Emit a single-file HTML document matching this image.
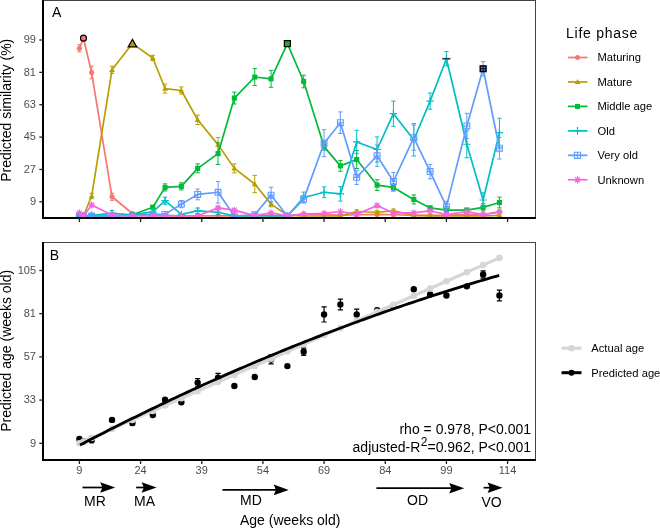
<!DOCTYPE html>
<html><head><meta charset="utf-8"><style>
html,body{margin:0;padding:0;background:#fff;width:660px;height:528px;overflow:hidden}
svg{display:block;will-change:transform}
text{font-family:"Liberation Sans",sans-serif}
.tk{font-size:11px;fill:#4D4D4D}
.ti{font-size:14px;fill:#000}
.pl{font-size:14px;fill:#000}
.lt{font-size:14px;letter-spacing:0.75px;fill:#000}
.lg{font-size:11.2px;fill:#000}
.st{font-size:14px;fill:#000}
.ar{font-size:14px;fill:#000}
</style></head><body>
<svg width="660" height="528" viewBox="0 0 660 528">
<rect width="660" height="528" fill="#fff"/>
<g id="panelA">
<rect x="43" y="0.5" width="492.5" height="217.5" fill="none" stroke="#444" stroke-width="1"/>
<defs><clipPath id="cA"><rect x="43" y="0" width="493" height="218"/></clipPath><clipPath id="cB"><rect x="43" y="242" width="493" height="218"/></clipPath></defs>
<g clip-path="url(#cA)">
<polyline points="79.40,48.27 83.48,38.20 91.63,72.54 112.02,196.77 132.41,213.49 152.80,215.29 165.04,215.29 181.35,215.82 197.66,215.82 218.05,215.82 234.36,215.82 254.75,215.29 271.07,215.29 287.38,215.82 303.69,214.03 324.08,214.39 340.39,215.29 356.70,214.75 377.09,214.39 393.41,214.75 413.80,215.29 430.11,215.29 446.42,215.29 466.81,214.39 483.12,214.75 499.43,211.51" fill="none" stroke="#F8766D" stroke-width="1.7" stroke-linejoin="round"/>
<path d="M79.40 44.67V51.87M77.20 44.67H81.60M77.20 51.87H81.60" stroke="#F8766D" stroke-width="1" fill="none"/>
<path d="M91.63 66.25V78.83M89.43 66.25H93.83M89.43 78.83H93.83" stroke="#F8766D" stroke-width="1" fill="none"/>
<path d="M112.02 193.17V200.36M109.82 193.17H114.22M109.82 200.36H114.22" stroke="#F8766D" stroke-width="1" fill="none"/>
<circle cx="79.40" cy="48.27" r="2.55" fill="#F8766D"/>
<circle cx="83.48" cy="38.20" r="2.55" fill="#F8766D"/>
<circle cx="91.63" cy="72.54" r="2.55" fill="#F8766D"/>
<circle cx="112.02" cy="196.77" r="2.55" fill="#F8766D"/>
<circle cx="132.41" cy="213.49" r="2.55" fill="#F8766D"/>
<circle cx="152.80" cy="215.29" r="2.55" fill="#F8766D"/>
<circle cx="165.04" cy="215.29" r="2.55" fill="#F8766D"/>
<circle cx="181.35" cy="215.82" r="2.55" fill="#F8766D"/>
<circle cx="197.66" cy="215.82" r="2.55" fill="#F8766D"/>
<circle cx="218.05" cy="215.82" r="2.55" fill="#F8766D"/>
<circle cx="234.36" cy="215.82" r="2.55" fill="#F8766D"/>
<circle cx="254.75" cy="215.29" r="2.55" fill="#F8766D"/>
<circle cx="271.07" cy="215.29" r="2.55" fill="#F8766D"/>
<circle cx="287.38" cy="215.82" r="2.55" fill="#F8766D"/>
<circle cx="303.69" cy="214.03" r="2.55" fill="#F8766D"/>
<circle cx="324.08" cy="214.39" r="2.55" fill="#F8766D"/>
<circle cx="340.39" cy="215.29" r="2.55" fill="#F8766D"/>
<circle cx="356.70" cy="214.75" r="2.55" fill="#F8766D"/>
<circle cx="377.09" cy="214.39" r="2.55" fill="#F8766D"/>
<circle cx="393.41" cy="214.75" r="2.55" fill="#F8766D"/>
<circle cx="413.80" cy="215.29" r="2.55" fill="#F8766D"/>
<circle cx="430.11" cy="215.29" r="2.55" fill="#F8766D"/>
<circle cx="446.42" cy="215.29" r="2.55" fill="#F8766D"/>
<circle cx="466.81" cy="214.39" r="2.55" fill="#F8766D"/>
<circle cx="483.12" cy="214.75" r="2.55" fill="#F8766D"/>
<circle cx="499.43" cy="211.51" r="2.55" fill="#F8766D"/>
<polyline points="79.40,216.00 83.48,216.00 91.63,196.05 112.02,69.84 132.41,43.60 152.80,57.98 165.04,88.54 181.35,90.52 197.66,119.82 218.05,144.63 234.36,168.36 254.75,184.00 271.07,204.14 287.38,215.29 303.69,216.00 324.08,216.00 340.39,215.82 356.70,211.51 377.09,212.23 393.41,210.79 413.80,215.29 430.11,215.82 446.42,216.00 466.81,215.82 483.12,216.00 499.43,215.29" fill="none" stroke="#B79F00" stroke-width="1.7" stroke-linejoin="round"/>
<path d="M91.63 193.35V198.75M89.43 193.35H93.83M89.43 198.75H93.83" stroke="#B79F00" stroke-width="1" fill="none"/>
<path d="M112.02 66.25V73.44M109.82 66.25H114.22M109.82 73.44H114.22" stroke="#B79F00" stroke-width="1" fill="none"/>
<path d="M152.80 55.28V60.67M150.60 55.28H155.00M150.60 60.67H155.00" stroke="#B79F00" stroke-width="1" fill="none"/>
<path d="M165.04 84.05V93.04M162.84 84.05H167.24M162.84 93.04H167.24" stroke="#B79F00" stroke-width="1" fill="none"/>
<path d="M181.35 86.92V94.11M179.15 86.92H183.55M179.15 94.11H183.55" stroke="#B79F00" stroke-width="1" fill="none"/>
<path d="M197.66 115.15V124.50M195.46 115.15H199.86M195.46 124.50H199.86" stroke="#B79F00" stroke-width="1" fill="none"/>
<path d="M218.05 137.44V151.82M215.85 137.44H220.25M215.85 151.82H220.25" stroke="#B79F00" stroke-width="1" fill="none"/>
<path d="M234.36 163.87V172.86M232.16 163.87H236.56M232.16 172.86H236.56" stroke="#B79F00" stroke-width="1" fill="none"/>
<path d="M254.75 175.37V192.63M252.55 175.37H256.95M252.55 192.63H256.95" stroke="#B79F00" stroke-width="1" fill="none"/>
<path d="M271.07 201.44V206.84M268.87 201.44H273.27M268.87 206.84H273.27" stroke="#B79F00" stroke-width="1" fill="none"/>
<path d="M356.70 209.71V213.31M354.50 209.71H358.90M354.50 213.31H358.90" stroke="#B79F00" stroke-width="1" fill="none"/>
<path d="M377.09 210.43V214.03M374.89 210.43H379.29M374.89 214.03H379.29" stroke="#B79F00" stroke-width="1" fill="none"/>
<path d="M393.41 208.99V212.59M391.21 208.99H395.61M391.21 212.59H395.61" stroke="#B79F00" stroke-width="1" fill="none"/>
<path d="M79.40 213.07L82.33 218.20L76.47 218.20Z" fill="#B79F00"/>
<path d="M83.48 213.07L86.41 218.20L80.55 218.20Z" fill="#B79F00"/>
<path d="M91.63 193.12L94.57 198.25L88.70 198.25Z" fill="#B79F00"/>
<path d="M112.02 66.91L114.96 72.04L109.09 72.04Z" fill="#B79F00"/>
<path d="M132.41 40.66L135.35 45.79L129.48 45.79Z" fill="#B79F00"/>
<path d="M152.80 55.05L155.74 60.18L149.87 60.18Z" fill="#B79F00"/>
<path d="M165.04 85.61L167.97 90.74L162.11 90.74Z" fill="#B79F00"/>
<path d="M181.35 87.59L184.28 92.72L178.42 92.72Z" fill="#B79F00"/>
<path d="M197.66 116.89L200.59 122.02L194.73 122.02Z" fill="#B79F00"/>
<path d="M218.05 141.70L220.98 146.83L215.12 146.83Z" fill="#B79F00"/>
<path d="M234.36 165.43L237.30 170.56L231.43 170.56Z" fill="#B79F00"/>
<path d="M254.75 181.07L257.69 186.20L251.82 186.20Z" fill="#B79F00"/>
<path d="M271.07 201.21L274.00 206.34L268.13 206.34Z" fill="#B79F00"/>
<path d="M287.38 212.35L290.31 217.48L284.45 217.48Z" fill="#B79F00"/>
<path d="M303.69 213.07L306.62 218.20L300.76 218.20Z" fill="#B79F00"/>
<path d="M324.08 213.07L327.01 218.20L321.15 218.20Z" fill="#B79F00"/>
<path d="M340.39 212.89L343.32 218.02L337.46 218.02Z" fill="#B79F00"/>
<path d="M356.70 208.58L359.64 213.71L353.77 213.71Z" fill="#B79F00"/>
<path d="M377.09 209.30L380.03 214.43L374.16 214.43Z" fill="#B79F00"/>
<path d="M393.41 207.86L396.34 212.99L390.47 212.99Z" fill="#B79F00"/>
<path d="M413.80 212.35L416.73 217.48L410.86 217.48Z" fill="#B79F00"/>
<path d="M430.11 212.89L433.04 218.02L427.18 218.02Z" fill="#B79F00"/>
<path d="M446.42 213.07L449.35 218.20L443.49 218.20Z" fill="#B79F00"/>
<path d="M466.81 212.89L469.74 218.02L463.88 218.02Z" fill="#B79F00"/>
<path d="M483.12 213.07L486.05 218.20L480.19 218.20Z" fill="#B79F00"/>
<path d="M499.43 212.35L502.37 217.48L496.50 217.48Z" fill="#B79F00"/>
<polyline points="79.40,216.00 83.48,216.00 91.63,216.00 112.02,216.00 132.41,214.75 152.80,207.20 165.04,187.42 181.35,186.34 197.66,168.36 218.05,153.62 234.36,98.07 254.75,77.03 271.07,78.83 287.38,43.60 303.69,81.53 324.08,146.61 340.39,165.85 356.70,159.55 377.09,185.08 393.41,187.42 413.80,199.46 430.11,207.91 446.42,210.07 466.81,210.07 483.12,207.38 499.43,202.52" fill="none" stroke="#00BA38" stroke-width="1.7" stroke-linejoin="round"/>
<path d="M132.41 212.95V216.54M130.21 212.95H134.61M130.21 216.54H134.61" stroke="#00BA38" stroke-width="1" fill="none"/>
<path d="M152.80 205.40V208.99M150.60 205.40H155.00M150.60 208.99H155.00" stroke="#00BA38" stroke-width="1" fill="none"/>
<path d="M165.04 183.82V191.02M162.84 183.82H167.24M162.84 191.02H167.24" stroke="#00BA38" stroke-width="1" fill="none"/>
<path d="M181.35 182.75V189.94M179.15 182.75H183.55M179.15 189.94H183.55" stroke="#00BA38" stroke-width="1" fill="none"/>
<path d="M197.66 163.87V172.86M195.46 163.87H199.86M195.46 172.86H199.86" stroke="#00BA38" stroke-width="1" fill="none"/>
<path d="M218.05 142.83V164.41M215.85 142.83H220.25M215.85 164.41H220.25" stroke="#00BA38" stroke-width="1" fill="none"/>
<path d="M234.36 92.14V104.00M232.16 92.14H236.56M232.16 104.00H236.56" stroke="#00BA38" stroke-width="1" fill="none"/>
<path d="M254.75 68.59V85.48M252.55 68.59H256.95M252.55 85.48H256.95" stroke="#00BA38" stroke-width="1" fill="none"/>
<path d="M271.07 70.38V87.28M268.87 70.38H273.27M268.87 87.28H273.27" stroke="#00BA38" stroke-width="1" fill="none"/>
<path d="M303.69 75.24V87.82M301.49 75.24H305.89M301.49 87.82H305.89" stroke="#00BA38" stroke-width="1" fill="none"/>
<path d="M324.08 143.01V150.21M321.88 143.01H326.28M321.88 150.21H326.28" stroke="#00BA38" stroke-width="1" fill="none"/>
<path d="M340.39 160.45V171.24M338.19 160.45H342.59M338.19 171.24H342.59" stroke="#00BA38" stroke-width="1" fill="none"/>
<path d="M356.70 150.56V168.54M354.50 150.56H358.90M354.50 168.54H358.90" stroke="#00BA38" stroke-width="1" fill="none"/>
<path d="M377.09 179.69V190.48M374.89 179.69H379.29M374.89 190.48H379.29" stroke="#00BA38" stroke-width="1" fill="none"/>
<path d="M393.41 183.82V191.02M391.21 183.82H395.61M391.21 191.02H395.61" stroke="#00BA38" stroke-width="1" fill="none"/>
<path d="M413.80 194.97V203.96M411.60 194.97H416.00M411.60 203.96H416.00" stroke="#00BA38" stroke-width="1" fill="none"/>
<path d="M430.11 206.12V209.71M427.91 206.12H432.31M427.91 209.71H432.31" stroke="#00BA38" stroke-width="1" fill="none"/>
<path d="M446.42 208.27V211.87M444.22 208.27H448.62M444.22 211.87H448.62" stroke="#00BA38" stroke-width="1" fill="none"/>
<path d="M466.81 208.27V211.87M464.61 208.27H469.01M464.61 211.87H469.01" stroke="#00BA38" stroke-width="1" fill="none"/>
<path d="M483.12 203.78V210.97M480.92 203.78H485.32M480.92 210.97H485.32" stroke="#00BA38" stroke-width="1" fill="none"/>
<path d="M499.43 197.13V207.91M497.23 197.13H501.63M497.23 207.91H501.63" stroke="#00BA38" stroke-width="1" fill="none"/>
<rect x="76.85" y="213.45" width="5.10" height="5.10" fill="#00BA38"/>
<rect x="80.93" y="213.45" width="5.10" height="5.10" fill="#00BA38"/>
<rect x="89.08" y="213.45" width="5.10" height="5.10" fill="#00BA38"/>
<rect x="109.47" y="213.45" width="5.10" height="5.10" fill="#00BA38"/>
<rect x="129.86" y="212.20" width="5.10" height="5.10" fill="#00BA38"/>
<rect x="150.25" y="204.65" width="5.10" height="5.10" fill="#00BA38"/>
<rect x="162.49" y="184.87" width="5.10" height="5.10" fill="#00BA38"/>
<rect x="178.80" y="183.79" width="5.10" height="5.10" fill="#00BA38"/>
<rect x="195.11" y="165.81" width="5.10" height="5.10" fill="#00BA38"/>
<rect x="215.50" y="151.07" width="5.10" height="5.10" fill="#00BA38"/>
<rect x="231.81" y="95.52" width="5.10" height="5.10" fill="#00BA38"/>
<rect x="252.20" y="74.48" width="5.10" height="5.10" fill="#00BA38"/>
<rect x="268.52" y="76.28" width="5.10" height="5.10" fill="#00BA38"/>
<rect x="284.83" y="41.05" width="5.10" height="5.10" fill="#00BA38"/>
<rect x="301.14" y="78.98" width="5.10" height="5.10" fill="#00BA38"/>
<rect x="321.53" y="144.06" width="5.10" height="5.10" fill="#00BA38"/>
<rect x="337.84" y="163.30" width="5.10" height="5.10" fill="#00BA38"/>
<rect x="354.15" y="157.00" width="5.10" height="5.10" fill="#00BA38"/>
<rect x="374.54" y="182.53" width="5.10" height="5.10" fill="#00BA38"/>
<rect x="390.86" y="184.87" width="5.10" height="5.10" fill="#00BA38"/>
<rect x="411.25" y="196.91" width="5.10" height="5.10" fill="#00BA38"/>
<rect x="427.56" y="205.36" width="5.10" height="5.10" fill="#00BA38"/>
<rect x="443.87" y="207.52" width="5.10" height="5.10" fill="#00BA38"/>
<rect x="464.26" y="207.52" width="5.10" height="5.10" fill="#00BA38"/>
<rect x="480.57" y="204.83" width="5.10" height="5.10" fill="#00BA38"/>
<rect x="496.88" y="199.97" width="5.10" height="5.10" fill="#00BA38"/>
<polyline points="79.40,216.00 83.48,216.00 91.63,215.29 112.02,213.31 132.41,214.93 152.80,211.87 165.04,200.72 181.35,214.39 197.66,210.79 218.05,212.23 234.36,216.00 254.75,216.00 271.07,216.00 287.38,216.00 303.69,197.49 324.08,192.27 340.39,193.89 356.70,141.94 377.09,149.49 393.41,113.71 413.80,139.78 430.11,101.13 446.42,58.70 466.81,144.27 483.12,200.00 499.43,132.59" fill="none" stroke="#00BFC4" stroke-width="1.7" stroke-linejoin="round"/>
<path d="M91.63 214.39V216.18M89.43 214.39H93.83M89.43 216.18H93.83" stroke="#00BFC4" stroke-width="1" fill="none"/>
<path d="M112.02 210.61V216.00M109.82 210.61H114.22M109.82 216.00H114.22" stroke="#00BFC4" stroke-width="1" fill="none"/>
<path d="M152.80 210.97V212.77M150.60 210.97H155.00M150.60 212.77H155.00" stroke="#00BFC4" stroke-width="1" fill="none"/>
<path d="M165.04 197.13V204.32M162.84 197.13H167.24M162.84 204.32H167.24" stroke="#00BFC4" stroke-width="1" fill="none"/>
<path d="M197.66 208.09V213.49M195.46 208.09H199.86M195.46 213.49H199.86" stroke="#00BFC4" stroke-width="1" fill="none"/>
<path d="M218.05 209.53V214.93M215.85 209.53H220.25M215.85 214.93H220.25" stroke="#00BFC4" stroke-width="1" fill="none"/>
<path d="M303.69 192.09V202.88M301.49 192.09H305.89M301.49 202.88H305.89" stroke="#00BFC4" stroke-width="1" fill="none"/>
<path d="M324.08 186.88V197.67M321.88 186.88H326.28M321.88 197.67H326.28" stroke="#00BFC4" stroke-width="1" fill="none"/>
<path d="M340.39 186.70V201.08M338.19 186.70H342.59M338.19 201.08H342.59" stroke="#00BFC4" stroke-width="1" fill="none"/>
<path d="M356.70 130.25V153.62M354.50 130.25H358.90M354.50 153.62H358.90" stroke="#00BFC4" stroke-width="1" fill="none"/>
<path d="M377.09 136.90V162.07M374.89 136.90H379.29M374.89 162.07H379.29" stroke="#00BFC4" stroke-width="1" fill="none"/>
<path d="M393.41 101.13V126.29M391.21 101.13H395.61M391.21 126.29H395.61" stroke="#00BFC4" stroke-width="1" fill="none"/>
<path d="M413.80 123.60V155.96M411.60 123.60H416.00M411.60 155.96H416.00" stroke="#00BFC4" stroke-width="1" fill="none"/>
<path d="M430.11 93.04V109.22M427.91 93.04H432.31M427.91 109.22H432.31" stroke="#00BFC4" stroke-width="1" fill="none"/>
<path d="M446.42 51.51V65.89M444.22 51.51H448.62M444.22 65.89H448.62" stroke="#00BFC4" stroke-width="1" fill="none"/>
<path d="M466.81 130.79V157.76M464.61 130.79H469.01M464.61 157.76H469.01" stroke="#00BFC4" stroke-width="1" fill="none"/>
<path d="M483.12 192.81V207.20M480.92 192.81H485.32M480.92 207.20H485.32" stroke="#00BFC4" stroke-width="1" fill="none"/>
<path d="M499.43 118.20V146.97M497.23 118.20H501.63M497.23 146.97H501.63" stroke="#00BFC4" stroke-width="1" fill="none"/>
<path d="M75.70 216.00H83.10M79.40 212.31V219.70" stroke="#00BFC4" stroke-width="1.2" fill="none"/>
<path d="M79.78 216.00H87.18M83.48 212.31V219.70" stroke="#00BFC4" stroke-width="1.2" fill="none"/>
<path d="M87.94 215.29H95.33M91.63 211.59V218.98" stroke="#00BFC4" stroke-width="1.2" fill="none"/>
<path d="M108.33 213.31H115.72M112.02 209.61V217.01" stroke="#00BFC4" stroke-width="1.2" fill="none"/>
<path d="M128.72 214.93H136.11M132.41 211.23V218.62" stroke="#00BFC4" stroke-width="1.2" fill="none"/>
<path d="M149.11 211.87H156.50M152.80 208.17V215.57" stroke="#00BFC4" stroke-width="1.2" fill="none"/>
<path d="M161.34 200.72H168.74M165.04 197.03V204.42" stroke="#00BFC4" stroke-width="1.2" fill="none"/>
<path d="M177.65 214.39H185.05M181.35 210.69V218.08" stroke="#00BFC4" stroke-width="1.2" fill="none"/>
<path d="M193.96 210.79H201.36M197.66 207.09V214.49" stroke="#00BFC4" stroke-width="1.2" fill="none"/>
<path d="M214.35 212.23H221.75M218.05 208.53V215.93" stroke="#00BFC4" stroke-width="1.2" fill="none"/>
<path d="M230.67 216.00H238.06M234.36 212.31V219.70" stroke="#00BFC4" stroke-width="1.2" fill="none"/>
<path d="M251.06 216.00H258.45M254.75 212.31V219.70" stroke="#00BFC4" stroke-width="1.2" fill="none"/>
<path d="M267.37 216.00H274.76M271.07 212.31V219.70" stroke="#00BFC4" stroke-width="1.2" fill="none"/>
<path d="M283.68 216.00H291.08M287.38 212.31V219.70" stroke="#00BFC4" stroke-width="1.2" fill="none"/>
<path d="M299.99 197.49H307.39M303.69 193.79V201.18" stroke="#00BFC4" stroke-width="1.2" fill="none"/>
<path d="M320.38 192.27H327.78M324.08 188.58V195.97" stroke="#00BFC4" stroke-width="1.2" fill="none"/>
<path d="M336.69 193.89H344.09M340.39 190.19V197.59" stroke="#00BFC4" stroke-width="1.2" fill="none"/>
<path d="M353.01 141.94H360.40M356.70 138.24V145.63" stroke="#00BFC4" stroke-width="1.2" fill="none"/>
<path d="M373.40 149.49H380.79M377.09 145.79V153.18" stroke="#00BFC4" stroke-width="1.2" fill="none"/>
<path d="M389.71 113.71H397.10M393.41 110.01V117.41" stroke="#00BFC4" stroke-width="1.2" fill="none"/>
<path d="M410.10 139.78H417.49M413.80 136.08V143.48" stroke="#00BFC4" stroke-width="1.2" fill="none"/>
<path d="M426.41 101.13H433.81M430.11 97.43V104.82" stroke="#00BFC4" stroke-width="1.2" fill="none"/>
<path d="M442.72 58.70H450.12M446.42 55.00V62.39" stroke="#00BFC4" stroke-width="1.2" fill="none"/>
<path d="M463.11 144.27H470.51M466.81 140.57V147.97" stroke="#00BFC4" stroke-width="1.2" fill="none"/>
<path d="M479.42 200.00H486.82M483.12 196.31V203.70" stroke="#00BFC4" stroke-width="1.2" fill="none"/>
<path d="M495.74 132.59H503.13M499.43 128.89V136.28" stroke="#00BFC4" stroke-width="1.2" fill="none"/>
<polyline points="79.40,216.00 83.48,216.00 91.63,216.00 112.02,216.00 132.41,216.00 152.80,214.39 165.04,214.39 181.35,204.14 197.66,194.43 218.05,192.27 234.36,216.00 254.75,214.75 271.07,195.15 287.38,216.00 303.69,199.11 324.08,143.19 340.39,122.70 356.70,177.35 377.09,155.78 393.41,181.49 413.80,137.62 430.11,171.60 446.42,206.66 466.81,125.93 483.12,68.76 499.43,148.23" fill="none" stroke="#619CFF" stroke-width="1.7" stroke-linejoin="round"/>
<path d="M152.80 213.49V215.29M150.60 213.49H155.00M150.60 215.29H155.00" stroke="#619CFF" stroke-width="1" fill="none"/>
<path d="M165.04 213.49V215.29M162.84 213.49H167.24M162.84 215.29H167.24" stroke="#619CFF" stroke-width="1" fill="none"/>
<path d="M181.35 200.54V207.73M179.15 200.54H183.55M179.15 207.73H183.55" stroke="#619CFF" stroke-width="1" fill="none"/>
<path d="M197.66 189.04V199.82M195.46 189.04H199.86M195.46 199.82H199.86" stroke="#619CFF" stroke-width="1" fill="none"/>
<path d="M218.05 181.49V203.06M215.85 181.49H220.25M215.85 203.06H220.25" stroke="#619CFF" stroke-width="1" fill="none"/>
<path d="M254.75 212.95V216.54M252.55 212.95H256.95M252.55 216.54H256.95" stroke="#619CFF" stroke-width="1" fill="none"/>
<path d="M271.07 187.24V203.06M268.87 187.24H273.27M268.87 203.06H273.27" stroke="#619CFF" stroke-width="1" fill="none"/>
<path d="M303.69 195.51V202.70M301.49 195.51H305.89M301.49 202.70H305.89" stroke="#619CFF" stroke-width="1" fill="none"/>
<path d="M324.08 129.71V156.68M321.88 129.71H326.28M321.88 156.68H326.28" stroke="#619CFF" stroke-width="1" fill="none"/>
<path d="M340.39 111.91V133.49M338.19 111.91H342.59M338.19 133.49H342.59" stroke="#619CFF" stroke-width="1" fill="none"/>
<path d="M356.70 170.16V184.54M354.50 170.16H358.90M354.50 184.54H358.90" stroke="#619CFF" stroke-width="1" fill="none"/>
<path d="M377.09 144.99V166.57M374.89 144.99H379.29M374.89 166.57H379.29" stroke="#619CFF" stroke-width="1" fill="none"/>
<path d="M393.41 172.50V190.48M391.21 172.50H395.61M391.21 190.48H395.61" stroke="#619CFF" stroke-width="1" fill="none"/>
<path d="M413.80 125.04V150.21M411.60 125.04H416.00M411.60 150.21H416.00" stroke="#619CFF" stroke-width="1" fill="none"/>
<path d="M430.11 164.41V178.79M427.91 164.41H432.31M427.91 178.79H432.31" stroke="#619CFF" stroke-width="1" fill="none"/>
<path d="M446.42 201.26V212.05M444.22 201.26H448.62M444.22 212.05H448.62" stroke="#619CFF" stroke-width="1" fill="none"/>
<path d="M466.81 113.35V138.52M464.61 113.35H469.01M464.61 138.52H469.01" stroke="#619CFF" stroke-width="1" fill="none"/>
<path d="M483.12 61.57V75.96M480.92 61.57H485.32M480.92 75.96H485.32" stroke="#619CFF" stroke-width="1" fill="none"/>
<path d="M499.43 137.44V159.01M497.23 137.44H501.63M497.23 159.01H501.63" stroke="#619CFF" stroke-width="1" fill="none"/>
<path d="M76.47 213.07h5.86v5.86h-5.86ZM76.47 216.00H82.33M79.40 213.07V218.94" stroke="#619CFF" stroke-width="1.1" fill="none"/>
<path d="M80.55 213.07h5.86v5.86h-5.86ZM80.55 216.00H86.41M83.48 213.07V218.94" stroke="#619CFF" stroke-width="1.1" fill="none"/>
<path d="M88.70 213.07h5.86v5.86h-5.86ZM88.70 216.00H94.57M91.63 213.07V218.94" stroke="#619CFF" stroke-width="1.1" fill="none"/>
<path d="M109.09 213.07h5.86v5.86h-5.86ZM109.09 216.00H114.96M112.02 213.07V218.94" stroke="#619CFF" stroke-width="1.1" fill="none"/>
<path d="M129.48 213.07h5.86v5.86h-5.86ZM129.48 216.00H135.35M132.41 213.07V218.94" stroke="#619CFF" stroke-width="1.1" fill="none"/>
<path d="M149.87 211.45h5.86v5.86h-5.86ZM149.87 214.39H155.74M152.80 211.45V217.32" stroke="#619CFF" stroke-width="1.1" fill="none"/>
<path d="M162.11 211.45h5.86v5.86h-5.86ZM162.11 214.39H167.97M165.04 211.45V217.32" stroke="#619CFF" stroke-width="1.1" fill="none"/>
<path d="M178.42 201.21h5.86v5.86h-5.86ZM178.42 204.14H184.28M181.35 201.21V207.07" stroke="#619CFF" stroke-width="1.1" fill="none"/>
<path d="M194.73 191.50h5.86v5.86h-5.86ZM194.73 194.43H200.59M197.66 191.50V197.36" stroke="#619CFF" stroke-width="1.1" fill="none"/>
<path d="M215.12 189.34h5.86v5.86h-5.86ZM215.12 192.27H220.98M218.05 189.34V195.21" stroke="#619CFF" stroke-width="1.1" fill="none"/>
<path d="M231.43 213.07h5.86v5.86h-5.86ZM231.43 216.00H237.30M234.36 213.07V218.94" stroke="#619CFF" stroke-width="1.1" fill="none"/>
<path d="M251.82 211.81h5.86v5.86h-5.86ZM251.82 214.75H257.69M254.75 211.81V217.68" stroke="#619CFF" stroke-width="1.1" fill="none"/>
<path d="M268.13 192.22h5.86v5.86h-5.86ZM268.13 195.15H274.00M271.07 192.22V198.08" stroke="#619CFF" stroke-width="1.1" fill="none"/>
<path d="M284.45 213.07h5.86v5.86h-5.86ZM284.45 216.00H290.31M287.38 213.07V218.94" stroke="#619CFF" stroke-width="1.1" fill="none"/>
<path d="M300.76 196.17h5.86v5.86h-5.86ZM300.76 199.11H306.62M303.69 196.17V202.04" stroke="#619CFF" stroke-width="1.1" fill="none"/>
<path d="M321.15 140.26h5.86v5.86h-5.86ZM321.15 143.19H327.01M324.08 140.26V146.13" stroke="#619CFF" stroke-width="1.1" fill="none"/>
<path d="M337.46 119.77h5.86v5.86h-5.86ZM337.46 122.70H343.32M340.39 119.77V125.63" stroke="#619CFF" stroke-width="1.1" fill="none"/>
<path d="M353.77 174.42h5.86v5.86h-5.86ZM353.77 177.35H359.64M356.70 174.42V180.28" stroke="#619CFF" stroke-width="1.1" fill="none"/>
<path d="M374.16 152.85h5.86v5.86h-5.86ZM374.16 155.78H380.03M377.09 152.85V158.71" stroke="#619CFF" stroke-width="1.1" fill="none"/>
<path d="M390.47 178.55h5.86v5.86h-5.86ZM390.47 181.49H396.34M393.41 178.55V184.42" stroke="#619CFF" stroke-width="1.1" fill="none"/>
<path d="M410.86 134.69h5.86v5.86h-5.86ZM410.86 137.62H416.73M413.80 134.69V140.55" stroke="#619CFF" stroke-width="1.1" fill="none"/>
<path d="M427.18 168.67h5.86v5.86h-5.86ZM427.18 171.60H433.04M430.11 168.67V174.53" stroke="#619CFF" stroke-width="1.1" fill="none"/>
<path d="M443.49 203.72h5.86v5.86h-5.86ZM443.49 206.66H449.35M446.42 203.72V209.59" stroke="#619CFF" stroke-width="1.1" fill="none"/>
<path d="M463.88 123.00h5.86v5.86h-5.86ZM463.88 125.93H469.74M466.81 123.00V128.87" stroke="#619CFF" stroke-width="1.1" fill="none"/>
<path d="M480.19 65.83h5.86v5.86h-5.86ZM480.19 68.76H486.05M483.12 65.83V71.70" stroke="#619CFF" stroke-width="1.1" fill="none"/>
<path d="M496.50 145.30h5.86v5.86h-5.86ZM496.50 148.23H502.37M499.43 145.30V151.16" stroke="#619CFF" stroke-width="1.1" fill="none"/>
<polyline points="79.40,212.77 83.48,216.00 91.63,205.04 112.02,215.11 132.41,216.00 152.80,216.00 165.04,215.82 181.35,215.82 197.66,215.82 218.05,207.91 234.36,210.07 254.75,215.65 271.07,212.77 287.38,215.82 303.69,214.03 324.08,213.31 340.39,211.51 356.70,214.39 377.09,205.58 393.41,212.95 413.80,212.95 430.11,210.79 446.42,214.57 466.81,211.51 483.12,214.57 499.43,212.23" fill="none" stroke="#F564E3" stroke-width="1.7" stroke-linejoin="round"/>
<path d="M91.63 203.24V206.84M89.43 203.24H93.83M89.43 206.84H93.83" stroke="#F564E3" stroke-width="1" fill="none"/>
<path d="M218.05 206.12V209.71M215.85 206.12H220.25M215.85 209.71H220.25" stroke="#F564E3" stroke-width="1" fill="none"/>
<path d="M377.09 203.78V207.38M374.89 203.78H379.29M374.89 207.38H379.29" stroke="#F564E3" stroke-width="1" fill="none"/>
<path d="M75.96 212.77H82.84M79.40 209.33V216.21M76.97 210.33L81.83 215.20M76.97 215.20L81.83 210.33" stroke="#F564E3" stroke-width="1.1" fill="none"/>
<path d="M80.04 216.00H86.92M83.48 212.56V219.45M81.04 213.57L85.91 218.44M81.04 218.44L85.91 213.57" stroke="#F564E3" stroke-width="1.1" fill="none"/>
<path d="M88.19 205.04H95.08M91.63 201.60V208.48M89.20 202.60L94.07 207.47M89.20 207.47L94.07 202.60" stroke="#F564E3" stroke-width="1.1" fill="none"/>
<path d="M108.58 215.11H115.47M112.02 211.66V218.55M109.59 212.67L114.46 217.54M109.59 217.54L114.46 212.67" stroke="#F564E3" stroke-width="1.1" fill="none"/>
<path d="M128.97 216.00H135.86M132.41 212.56V219.45M129.98 213.57L134.85 218.44M129.98 218.44L134.85 213.57" stroke="#F564E3" stroke-width="1.1" fill="none"/>
<path d="M149.36 216.00H156.25M152.80 212.56V219.45M150.37 213.57L155.24 218.44M150.37 218.44L155.24 213.57" stroke="#F564E3" stroke-width="1.1" fill="none"/>
<path d="M161.60 215.82H168.48M165.04 212.38V219.27M162.60 213.39L167.47 218.26M162.60 218.26L167.47 213.39" stroke="#F564E3" stroke-width="1.1" fill="none"/>
<path d="M177.91 215.82H184.79M181.35 212.38V219.27M178.92 213.39L183.78 218.26M178.92 218.26L183.78 213.39" stroke="#F564E3" stroke-width="1.1" fill="none"/>
<path d="M194.22 215.82H201.10M197.66 212.38V219.27M195.23 213.39L200.10 218.26M195.23 218.26L200.10 213.39" stroke="#F564E3" stroke-width="1.1" fill="none"/>
<path d="M214.61 207.91H221.49M218.05 204.47V211.36M215.62 205.48L220.49 210.35M215.62 210.35L220.49 205.48" stroke="#F564E3" stroke-width="1.1" fill="none"/>
<path d="M230.92 210.07H237.81M234.36 206.63V213.51M231.93 207.64L236.80 212.51M231.93 212.51L236.80 207.64" stroke="#F564E3" stroke-width="1.1" fill="none"/>
<path d="M251.31 215.65H258.20M254.75 212.20V219.09M252.32 213.21L257.19 218.08M252.32 218.08L257.19 213.21" stroke="#F564E3" stroke-width="1.1" fill="none"/>
<path d="M267.62 212.77H274.51M271.07 209.33V216.21M268.63 210.33L273.50 215.20M268.63 215.20L273.50 210.33" stroke="#F564E3" stroke-width="1.1" fill="none"/>
<path d="M283.94 215.82H290.82M287.38 212.38V219.27M284.94 213.39L289.81 218.26M284.94 218.26L289.81 213.39" stroke="#F564E3" stroke-width="1.1" fill="none"/>
<path d="M300.25 214.03H307.13M303.69 210.58V217.47M301.26 211.59L306.12 216.46M301.26 216.46L306.12 211.59" stroke="#F564E3" stroke-width="1.1" fill="none"/>
<path d="M320.64 213.31H327.52M324.08 209.87V216.75M321.65 210.87L326.51 215.74M321.65 215.74L326.51 210.87" stroke="#F564E3" stroke-width="1.1" fill="none"/>
<path d="M336.95 211.51H343.83M340.39 208.07V214.95M337.96 209.08L342.83 213.94M337.96 213.94L342.83 209.08" stroke="#F564E3" stroke-width="1.1" fill="none"/>
<path d="M353.26 214.39H360.15M356.70 210.94V217.83M354.27 211.95L359.14 216.82M354.27 216.82L359.14 211.95" stroke="#F564E3" stroke-width="1.1" fill="none"/>
<path d="M373.65 205.58H380.54M377.09 202.13V209.02M374.66 203.14L379.53 208.01M374.66 208.01L379.53 203.14" stroke="#F564E3" stroke-width="1.1" fill="none"/>
<path d="M389.96 212.95H396.85M393.41 209.51V216.39M390.97 210.51L395.84 215.38M390.97 215.38L395.84 210.51" stroke="#F564E3" stroke-width="1.1" fill="none"/>
<path d="M410.35 212.95H417.24M413.80 209.51V216.39M411.36 210.51L416.23 215.38M411.36 215.38L416.23 210.51" stroke="#F564E3" stroke-width="1.1" fill="none"/>
<path d="M426.67 210.79H433.55M430.11 207.35V214.23M427.67 208.36L432.54 213.22M427.67 213.22L432.54 208.36" stroke="#F564E3" stroke-width="1.1" fill="none"/>
<path d="M442.98 214.57H449.86M446.42 211.12V218.01M443.99 212.13L448.85 217.00M443.99 217.00L448.85 212.13" stroke="#F564E3" stroke-width="1.1" fill="none"/>
<path d="M463.37 211.51H470.25M466.81 208.07V214.95M464.38 209.08L469.24 213.94M464.38 213.94L469.24 209.08" stroke="#F564E3" stroke-width="1.1" fill="none"/>
<path d="M479.68 214.57H486.56M483.12 211.12V218.01M480.69 212.13L485.56 217.00M480.69 217.00L485.56 212.13" stroke="#F564E3" stroke-width="1.1" fill="none"/>
<path d="M495.99 212.23H502.88M499.43 208.79V215.67M497.00 209.80L501.87 214.66M497.00 214.66L501.87 209.80" stroke="#F564E3" stroke-width="1.1" fill="none"/>
</g>
<circle cx="83.48" cy="38.20" r="3" fill="#F8766D" stroke="#000" stroke-width="1.2"/>
<path d="M132.41 39.40L136.71 46.90L128.11 46.90Z" fill="#B79F00" stroke="#000" stroke-width="1.2"/>
<rect x="284.38" y="40.60" width="6" height="6" fill="#00BA38" stroke="#000" stroke-width="1.2"/>
<path d="M442.42 58.70H450.42" stroke="#333" stroke-width="1.6"/>
<path d="M480.32 65.96h5.6v5.6h-5.6Z" fill="#619CFF" stroke="#000" stroke-width="1.5"/><path d="M480.32 68.76h5.6M483.12 65.96v5.6" stroke="#000" stroke-width="1"/>
<path d="M43 0V218H536" fill="none" stroke="#000" stroke-width="2"/>
<path d="M39.3 201.80H43" stroke="#222" stroke-width="1.3"/>
<text x="36" y="205.10" text-anchor="end" class="tk">9</text>
<path d="M39.3 169.44H43" stroke="#222" stroke-width="1.3"/>
<text x="36" y="172.74" text-anchor="end" class="tk">27</text>
<path d="M39.3 137.08H43" stroke="#222" stroke-width="1.3"/>
<text x="36" y="140.38" text-anchor="end" class="tk">45</text>
<path d="M39.3 104.72H43" stroke="#222" stroke-width="1.3"/>
<text x="36" y="108.02" text-anchor="end" class="tk">63</text>
<path d="M39.3 72.36H43" stroke="#222" stroke-width="1.3"/>
<text x="36" y="75.66" text-anchor="end" class="tk">81</text>
<path d="M39.3 40.00H43" stroke="#222" stroke-width="1.3"/>
<text x="36" y="43.30" text-anchor="end" class="tk">99</text>
<path d="M79.40 218V222" stroke="#222" stroke-width="1.3"/>
<path d="M140.57 218V222" stroke="#222" stroke-width="1.3"/>
<path d="M201.74 218V222" stroke="#222" stroke-width="1.3"/>
<path d="M262.91 218V222" stroke="#222" stroke-width="1.3"/>
<path d="M324.08 218V222" stroke="#222" stroke-width="1.3"/>
<path d="M385.25 218V222" stroke="#222" stroke-width="1.3"/>
<path d="M446.42 218V222" stroke="#222" stroke-width="1.3"/>
<path d="M507.59 218V222" stroke="#222" stroke-width="1.3"/>
<text x="52" y="16.5" class="pl">A</text>
<text transform="translate(11.3 110.3) rotate(-90)" text-anchor="middle" class="ti">Predicted similarity (%)</text>
</g>
<text x="566" y="38" class="lt">Life phase</text>
<path d="M568 57.50H587.5" stroke="#F8766D" stroke-width="1.7"/>
<circle cx="577.50" cy="57.50" r="2.50" fill="#F8766D"/>
<text x="597.5" y="61.40" class="lg">Maturing</text>
<path d="M568 81.95H587.5" stroke="#B79F00" stroke-width="1.7"/>
<path d="M577.50 79.08L580.38 84.11L574.62 84.11Z" fill="#B79F00"/>
<text x="597.5" y="85.85" class="lg">Mature</text>
<path d="M568 106.40H587.5" stroke="#00BA38" stroke-width="1.7"/>
<rect x="575.00" y="103.90" width="5.00" height="5.00" fill="#00BA38"/>
<text x="597.5" y="110.30" class="lg">Middle age</text>
<path d="M568 130.85H587.5" stroke="#00BFC4" stroke-width="1.7"/>
<path d="M573.59 130.85H581.41M577.50 126.93V134.76" stroke="#00BFC4" stroke-width="1.2" fill="none"/>
<text x="597.5" y="134.75" class="lg">Old</text>
<path d="M568 155.30H587.5" stroke="#619CFF" stroke-width="1.7"/>
<path d="M574.39 152.20h6.21v6.21h-6.21ZM574.39 155.30H580.61M577.50 152.20V158.41" stroke="#619CFF" stroke-width="1.1" fill="none"/>
<text x="597.5" y="159.20" class="lg">Very old</text>
<path d="M568 179.75H587.5" stroke="#F564E3" stroke-width="1.7"/>
<path d="M573.86 179.75H581.14M577.50 176.10V183.40M574.92 177.17L580.08 182.33M574.92 182.33L580.08 177.17" stroke="#F564E3" stroke-width="1.1" fill="none"/>
<text x="597.5" y="183.65" class="lg">Unknown</text>
<g id="panelB">
<rect x="43" y="242.5" width="492.5" height="217" fill="none" stroke="#444" stroke-width="1"/>
<circle cx="79.40" cy="438.98" r="3.2" fill="#000"/>
<circle cx="83.48" cy="441.50" r="3.2" fill="#000"/>
<circle cx="91.63" cy="440.42" r="3.2" fill="#000"/>
<circle cx="112.02" cy="419.90" r="3.2" fill="#000"/>
<path d="M132.41 420.80V425.12M129.81 420.80H135.01M129.81 425.12H135.01" stroke="#000" stroke-width="1.2" fill="none"/>
<circle cx="132.41" cy="422.96" r="3.2" fill="#000"/>
<circle cx="152.80" cy="415.04" r="3.2" fill="#000"/>
<circle cx="165.04" cy="399.74" r="3.2" fill="#000"/>
<circle cx="181.35" cy="402.26" r="3.2" fill="#000"/>
<path d="M197.66 378.68V386.96M195.06 378.68H200.26M195.06 386.96H200.26" stroke="#000" stroke-width="1.2" fill="none"/>
<circle cx="197.66" cy="382.82" r="3.2" fill="#000"/>
<path d="M218.05 373.28V382.28M215.45 373.28H220.65M215.45 382.28H220.65" stroke="#000" stroke-width="1.2" fill="none"/>
<circle cx="218.05" cy="377.78" r="3.2" fill="#000"/>
<circle cx="234.36" cy="386.06" r="3.2" fill="#000"/>
<circle cx="254.75" cy="377.06" r="3.2" fill="#000"/>
<path d="M271.07 354.92V363.92M268.47 354.92H273.67M268.47 363.92H273.67" stroke="#000" stroke-width="1.2" fill="none"/>
<circle cx="271.07" cy="359.42" r="3.2" fill="#000"/>
<circle cx="287.38" cy="366.08" r="3.2" fill="#000"/>
<path d="M303.69 348.08V355.28M301.09 348.08H306.29M301.09 355.28H306.29" stroke="#000" stroke-width="1.2" fill="none"/>
<circle cx="303.69" cy="351.68" r="3.2" fill="#000"/>
<path d="M324.08 306.86V321.98M321.48 306.86H326.68M321.48 321.98H326.68" stroke="#000" stroke-width="1.2" fill="none"/>
<circle cx="324.08" cy="314.42" r="3.2" fill="#000"/>
<path d="M340.39 299.12V309.92M337.79 299.12H342.99M337.79 309.92H342.99" stroke="#000" stroke-width="1.2" fill="none"/>
<circle cx="340.39" cy="304.52" r="3.2" fill="#000"/>
<path d="M356.70 309.20V319.64M354.10 309.20H359.30M354.10 319.64H359.30" stroke="#000" stroke-width="1.2" fill="none"/>
<circle cx="356.70" cy="314.42" r="3.2" fill="#000"/>
<circle cx="377.09" cy="310.10" r="3.2" fill="#000"/>
<circle cx="393.41" cy="306.50" r="3.2" fill="#000"/>
<circle cx="413.80" cy="289.22" r="3.2" fill="#000"/>
<circle cx="430.11" cy="294.44" r="3.2" fill="#000"/>
<circle cx="446.42" cy="295.52" r="3.2" fill="#000"/>
<circle cx="466.81" cy="286.34" r="3.2" fill="#000"/>
<path d="M483.12 270.86V278.06M480.52 270.86H485.72M480.52 278.06H485.72" stroke="#000" stroke-width="1.2" fill="none"/>
<circle cx="483.12" cy="274.46" r="3.2" fill="#000"/>
<path d="M499.43 290.12V300.92M496.83 290.12H502.03M496.83 300.92H502.03" stroke="#000" stroke-width="1.2" fill="none"/>
<circle cx="499.43" cy="295.52" r="3.2" fill="#000"/>
<polyline points="79.40,443.30 83.48,441.50 91.63,437.90 112.02,428.90 132.41,419.90 152.80,410.90 165.04,405.50 181.35,398.30 197.66,391.10 218.05,382.10 234.36,374.90 254.75,365.90 271.07,358.70 287.38,351.50 303.69,344.30 324.08,335.30 340.39,328.10 356.70,320.90 377.09,311.90 393.41,304.70 413.80,295.70 430.11,288.50 446.42,281.30 466.81,272.30 483.12,265.10 499.43,257.90" fill="none" stroke="#D6D6D6" stroke-width="3.2"/>
<circle cx="79.40" cy="443.30" r="3.3" fill="#D6D6D6"/>
<circle cx="83.48" cy="441.50" r="3.3" fill="#D6D6D6"/>
<circle cx="91.63" cy="437.90" r="3.3" fill="#D6D6D6"/>
<circle cx="112.02" cy="428.90" r="3.3" fill="#D6D6D6"/>
<circle cx="132.41" cy="419.90" r="3.3" fill="#D6D6D6"/>
<circle cx="152.80" cy="410.90" r="3.3" fill="#D6D6D6"/>
<circle cx="165.04" cy="405.50" r="3.3" fill="#D6D6D6"/>
<circle cx="181.35" cy="398.30" r="3.3" fill="#D6D6D6"/>
<circle cx="197.66" cy="391.10" r="3.3" fill="#D6D6D6"/>
<circle cx="218.05" cy="382.10" r="3.3" fill="#D6D6D6"/>
<circle cx="234.36" cy="374.90" r="3.3" fill="#D6D6D6"/>
<circle cx="254.75" cy="365.90" r="3.3" fill="#D6D6D6"/>
<circle cx="271.07" cy="358.70" r="3.3" fill="#D6D6D6"/>
<circle cx="287.38" cy="351.50" r="3.3" fill="#D6D6D6"/>
<circle cx="303.69" cy="344.30" r="3.3" fill="#D6D6D6"/>
<circle cx="324.08" cy="335.30" r="3.3" fill="#D6D6D6"/>
<circle cx="340.39" cy="328.10" r="3.3" fill="#D6D6D6"/>
<circle cx="356.70" cy="320.90" r="3.3" fill="#D6D6D6"/>
<circle cx="377.09" cy="311.90" r="3.3" fill="#D6D6D6"/>
<circle cx="393.41" cy="304.70" r="3.3" fill="#D6D6D6"/>
<circle cx="413.80" cy="295.70" r="3.3" fill="#D6D6D6"/>
<circle cx="430.11" cy="288.50" r="3.3" fill="#D6D6D6"/>
<circle cx="446.42" cy="281.30" r="3.3" fill="#D6D6D6"/>
<circle cx="466.81" cy="272.30" r="3.3" fill="#D6D6D6"/>
<circle cx="483.12" cy="265.10" r="3.3" fill="#D6D6D6"/>
<circle cx="499.43" cy="257.90" r="3.3" fill="#D6D6D6"/>
<polyline points="80.00,445.00 84.00,442.92 88.00,440.84 92.00,438.78 96.00,436.72 100.00,434.67 104.00,432.63 108.00,430.60 112.00,428.58 116.00,426.57 120.00,424.57 124.00,422.57 128.00,420.59 132.00,418.61 136.00,416.65 140.00,414.69 144.00,412.74 148.00,410.80 152.00,408.87 156.00,406.95 160.00,405.03 164.00,403.13 168.00,401.23 172.00,399.35 176.00,397.47 180.00,395.60 184.00,393.74 188.00,391.89 192.00,390.05 196.00,388.22 200.00,386.39 204.00,384.58 208.00,382.77 212.00,380.97 216.00,379.19 220.00,377.41 224.00,375.64 228.00,373.88 232.00,372.13 236.00,370.38 240.00,368.65 244.00,366.92 248.00,365.21 252.00,363.50 256.00,361.80 260.00,360.11 264.00,358.43 268.00,356.76 272.00,355.10 276.00,353.44 280.00,351.80 284.00,350.16 288.00,348.54 292.00,346.92 296.00,345.31 300.00,343.71 304.00,342.12 308.00,340.54 312.00,338.97 316.00,337.40 320.00,335.85 324.00,334.30 328.00,332.77 332.00,331.24 336.00,329.72 340.00,328.21 344.00,326.71 348.00,325.21 352.00,323.73 356.00,322.26 360.00,320.79 364.00,319.34 368.00,317.89 372.00,316.45 376.00,315.02 380.00,313.60 384.00,312.19 388.00,310.79 392.00,309.39 396.00,308.01 400.00,306.63 404.00,305.27 408.00,303.91 412.00,302.56 416.00,301.22 420.00,299.89 424.00,298.57 428.00,297.25 432.00,295.95 436.00,294.65 440.00,293.37 444.00,292.09 448.00,290.82 452.00,289.56 456.00,288.31 460.00,287.07 464.00,285.84 468.00,284.62 472.00,283.40 476.00,282.20 480.00,281.00 484.00,279.81 488.00,278.63 492.00,277.46 496.00,276.30 499.20,275.38" fill="none" stroke="#000" stroke-width="2.8" stroke-linecap="butt"/>
<path d="M43 242V460H536" fill="none" stroke="#000" stroke-width="2"/>
<path d="M39.3 443.30H43" stroke="#222" stroke-width="1.3"/>
<text x="36" y="446.60" text-anchor="end" class="tk">9</text>
<path d="M39.3 400.10H43" stroke="#222" stroke-width="1.3"/>
<text x="36" y="403.40" text-anchor="end" class="tk">33</text>
<path d="M39.3 356.90H43" stroke="#222" stroke-width="1.3"/>
<text x="36" y="360.20" text-anchor="end" class="tk">57</text>
<path d="M39.3 313.70H43" stroke="#222" stroke-width="1.3"/>
<text x="36" y="317.00" text-anchor="end" class="tk">81</text>
<path d="M39.3 270.50H43" stroke="#222" stroke-width="1.3"/>
<text x="36" y="273.80" text-anchor="end" class="tk">105</text>
<path d="M79.40 460V464" stroke="#222" stroke-width="1.3"/>
<text x="79.40" y="474" text-anchor="middle" class="tk">9</text>
<path d="M140.57 460V464" stroke="#222" stroke-width="1.3"/>
<text x="140.57" y="474" text-anchor="middle" class="tk">24</text>
<path d="M201.74 460V464" stroke="#222" stroke-width="1.3"/>
<text x="201.74" y="474" text-anchor="middle" class="tk">39</text>
<path d="M262.91 460V464" stroke="#222" stroke-width="1.3"/>
<text x="262.91" y="474" text-anchor="middle" class="tk">54</text>
<path d="M324.08 460V464" stroke="#222" stroke-width="1.3"/>
<text x="324.08" y="474" text-anchor="middle" class="tk">69</text>
<path d="M385.25 460V464" stroke="#222" stroke-width="1.3"/>
<text x="385.25" y="474" text-anchor="middle" class="tk">84</text>
<path d="M446.42 460V464" stroke="#222" stroke-width="1.3"/>
<text x="446.42" y="474" text-anchor="middle" class="tk">99</text>
<path d="M507.59 460V464" stroke="#222" stroke-width="1.3"/>
<text x="507.59" y="474" text-anchor="middle" class="tk">114</text>
<text x="49.8" y="259.8" class="pl">B</text>
<text transform="translate(11.3 350.8) rotate(-90)" text-anchor="middle" class="ti">Predicted age (weeks old)</text>
<text x="531" y="434.2" text-anchor="end" class="st">rho = 0.978, P&lt;0.001</text>
<text x="531" y="451.7" text-anchor="end" class="st">adjusted-R<tspan dx="0.4" dy="-6.2" font-size="12">2</tspan><tspan dx="0.1" dy="6.2">=0.962, P&lt;0.001</tspan></text>
</g>
<path d="M561.5 348.2H581.5" stroke="#D6D6D6" stroke-width="3.2"/><circle cx="571.5" cy="348.2" r="3.3" fill="#D6D6D6"/>
<text x="591.3" y="352.2" class="lg">Actual age</text>
<path d="M561.5 372.7H581.5" stroke="#000" stroke-width="3"/><circle cx="571.5" cy="372.7" r="3" fill="#000"/>
<text x="591.3" y="376.7" class="lg">Predicted age</text>
<path d="M82.50 487.50H103.20" stroke="#000" stroke-width="1.7"/><path d="M115.20 487.50L100.20 482.20L102.40 487.50L100.20 492.80Z" fill="#000"/>
<path d="M136.10 487.50H144.60" stroke="#000" stroke-width="1.7"/><path d="M156.60 487.50L141.60 482.20L143.80 487.50L141.60 492.80Z" fill="#000"/>
<path d="M222.50 489.90H276.70" stroke="#000" stroke-width="1.7"/><path d="M288.70 489.90L273.70 484.60L275.90 489.90L273.70 495.20Z" fill="#000"/>
<path d="M376.40 488.20H452.20" stroke="#000" stroke-width="1.7"/><path d="M464.20 488.20L449.20 482.90L451.40 488.20L449.20 493.50Z" fill="#000"/>
<path d="M483.60 487.70H490.60" stroke="#000" stroke-width="1.7"/><path d="M502.60 487.70L487.60 482.40L489.80 487.70L487.60 493.00Z" fill="#000"/>
<text x="84" y="506.2" class="ar">MR</text>
<text x="134" y="506" class="ar">MA</text>
<text x="240" y="505.3" class="ar">MD</text>
<text x="407" y="505.2" class="ar">OD</text>
<text x="481.5" y="506.6" class="ar">VO</text>
<text x="290.2" y="524.5" text-anchor="middle" class="ti">Age (weeks old)</text>
</svg>
</body></html>
